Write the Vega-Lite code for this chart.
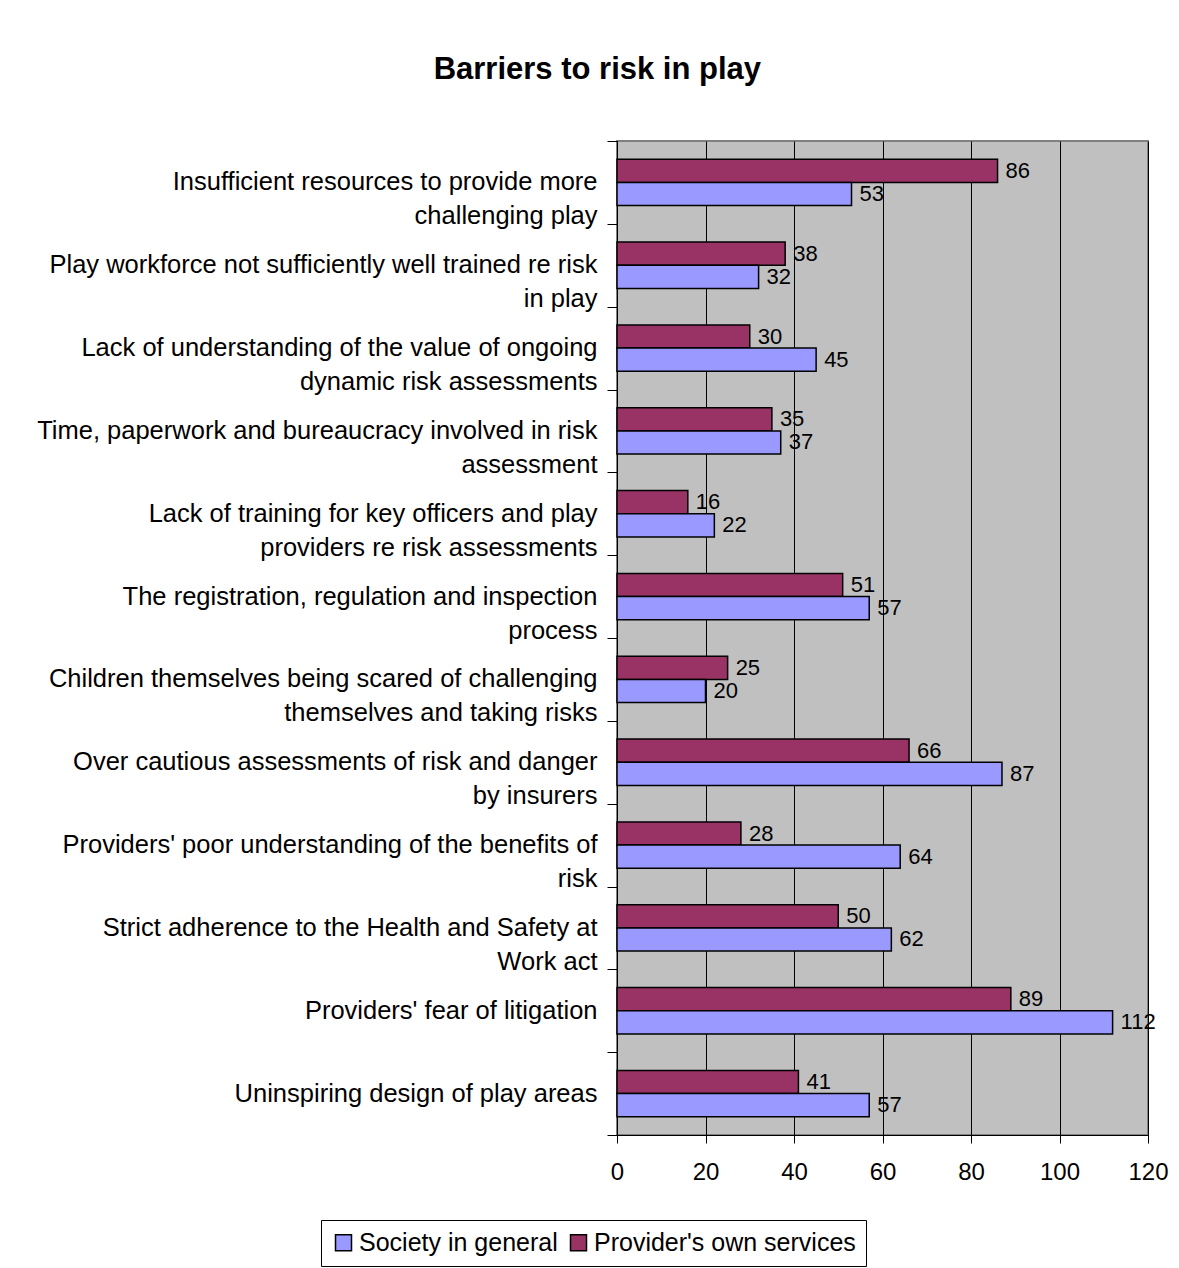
{
  "$schema": "https://vega.github.io/schema/vega-lite/v6.json",
  "width": 531,
  "height": 994,
  "autosize": {"type": "none"},
  "padding": {"left": 617, "top": 141, "right": 31, "bottom": 133},
  "background": "white",
  "title": {
    "text": "Barriers to risk in play",
    "fontSize": 31,
    "fontWeight": "bold",
    "font": "Liberation Sans",
    "anchor": "middle",
    "frame": "bounds",
    "offset": 55,
    "dx": -5,
    "color": "black"
  },
  "config": {
    "font": "Liberation Sans",
    "view": {"fill": "#C0C0C0", "stroke": "#808080", "strokeWidth": 2}
  },
  "data": {
    "values": [
      {"barrier": "Insufficient resources to provide more\nchallenging play", "series": "Provider's own services", "value": 86},
      {"barrier": "Insufficient resources to provide more\nchallenging play", "series": "Society in general", "value": 53},
      {"barrier": "Play workforce not sufficiently well trained re risk\nin play", "series": "Provider's own services", "value": 38},
      {"barrier": "Play workforce not sufficiently well trained re risk\nin play", "series": "Society in general", "value": 32},
      {"barrier": "Lack of understanding of the value of ongoing\ndynamic risk assessments", "series": "Provider's own services", "value": 30},
      {"barrier": "Lack of understanding of the value of ongoing\ndynamic risk assessments", "series": "Society in general", "value": 45},
      {"barrier": "Time, paperwork and bureaucracy involved in risk\nassessment", "series": "Provider's own services", "value": 35},
      {"barrier": "Time, paperwork and bureaucracy involved in risk\nassessment", "series": "Society in general", "value": 37},
      {"barrier": "Lack of training for key officers and play\nproviders re risk assessments", "series": "Provider's own services", "value": 16},
      {"barrier": "Lack of training for key officers and play\nproviders re risk assessments", "series": "Society in general", "value": 22},
      {"barrier": "The registration, regulation and inspection\nprocess", "series": "Provider's own services", "value": 51},
      {"barrier": "The registration, regulation and inspection\nprocess", "series": "Society in general", "value": 57},
      {"barrier": "Children themselves being scared of challenging\nthemselves and taking risks", "series": "Provider's own services", "value": 25},
      {"barrier": "Children themselves being scared of challenging\nthemselves and taking risks", "series": "Society in general", "value": 20},
      {"barrier": "Over cautious assessments of risk and danger\nby insurers", "series": "Provider's own services", "value": 66},
      {"barrier": "Over cautious assessments of risk and danger\nby insurers", "series": "Society in general", "value": 87},
      {"barrier": "Providers' poor understanding of the benefits of\nrisk", "series": "Provider's own services", "value": 28},
      {"barrier": "Providers' poor understanding of the benefits of\nrisk", "series": "Society in general", "value": 64},
      {"barrier": "Strict adherence to the Health and Safety at\nWork act", "series": "Provider's own services", "value": 50},
      {"barrier": "Strict adherence to the Health and Safety at\nWork act", "series": "Society in general", "value": 62},
      {"barrier": "Providers' fear of litigation", "series": "Provider's own services", "value": 89},
      {"barrier": "Providers' fear of litigation", "series": "Society in general", "value": 112},
      {"barrier": "Uninspiring design of play areas", "series": "Provider's own services", "value": 41},
      {"barrier": "Uninspiring design of play areas", "series": "Society in general", "value": 57}
    ]
  },
  "encoding": {
    "yOffset": {
      "field": "series",
      "type": "nominal",
      "scale": {"domain": ["Provider's own services", "Society in general"], "paddingOuter": 0.79, "paddingInner": 0}
    },
    "x": {
      "field": "value",
      "type": "quantitative",
      "scale": {"domain": [0, 120], "nice": false},
      "axis": {
        "title": null,
        "values": [0, 20, 40, 60, 80, 100, 120],
        "labelFontSize": 24,
        "labelColor": "black",
        "labelFlush": false,
        "labelOverlap": false,
        "labelPadding": 17,
        "tickSize": 8,
        "tickColor": "black",
        "domainColor": "black",
        "grid": true,
        "gridColor": "black",
        "gridWidth": 1,
        "gridOpacity": 1
      }
    }
  },
  "layer": [
    {
      "mark": {"type": "bar", "stroke": "black", "strokeWidth": 1.5},
      "encoding": {
        "y": {
          "field": "barrier",
          "type": "nominal",
          "sort": null,
          "scale": {"paddingInner": 0, "paddingOuter": 0},
          "axis": {
            "orient": "left",
            "title": null,
            "labelExpr": "split(datum.value, '\\n')",
            "labelFontSize": 25.5,
            "labelColor": "black",
            "labelAlign": "right",
            "labelBaseline": "middle",
            "labelLineHeight": 34,
            "labelPadding": 20,
            "labelLimit": 0,
            "ticks": false,
            "domainColor": "black",
            "domainWidth": 1,
            "grid": false
          }
        },
        "color": {
          "field": "series",
          "type": "nominal",
          "scale": {"domain": ["Society in general", "Provider's own services"], "range": ["#9999FF", "#993366"]},
          "legend": {
            "title": null,
            "orient": "none",
            "legendX": -296,
            "legendY": 1079,
            "direction": "horizontal",
            "labelFontSize": 25,
            "labelColor": "black",
            "labelOffset": 3,
            "labelLimit": 0,
            "symbolType": "square",
            "symbolSize": 256,
            "symbolStrokeColor": "black",
            "symbolStrokeWidth": 1.5,
            "symbolOpacity": 1,
            "strokeColor": "black",
            "fillColor": "white",
            "padding": 10,
            "columnPadding": 8
          }
        }
      }
    },
    {
      "mark": {"type": "text", "align": "left", "baseline": "middle", "dx": 8, "fontSize": 22, "color": "black"},
      "encoding": {
        "y": {
          "field": "barrier",
          "type": "nominal",
          "sort": null,
          "axis": {
            "orient": "left",
            "title": null,
            "labels": false,
            "tickBand": "extent",
            "tickSize": 10,
            "tickColor": "black",
            "domain": false,
            "grid": false
          }
        },
        "text": {"field": "value", "type": "quantitative"}
      }
    }
  ],
  "resolve": {"axis": {"y": "independent"}}
}
